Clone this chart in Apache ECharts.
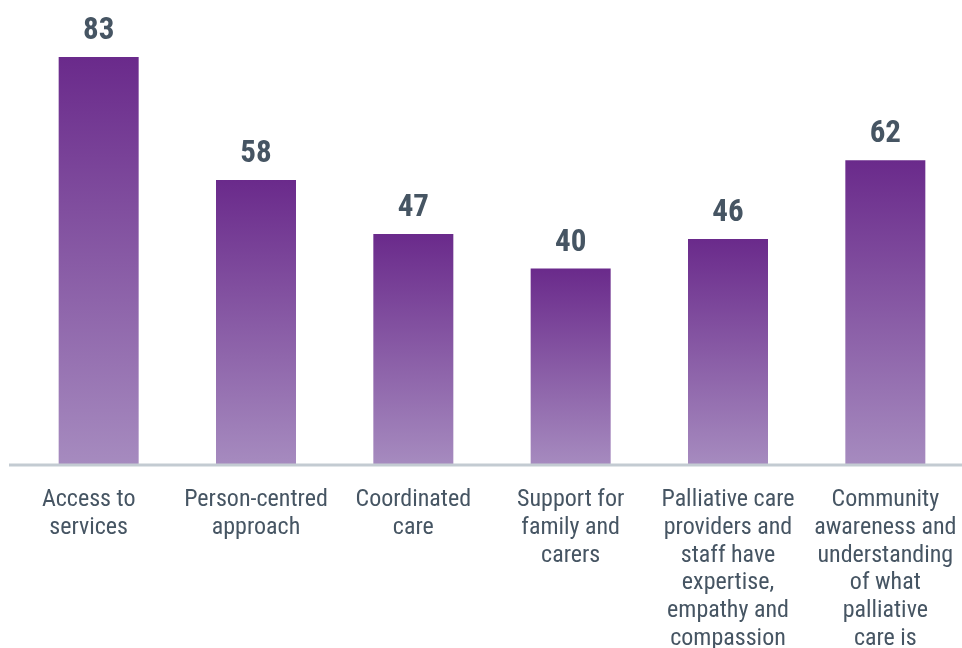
<!DOCTYPE html>
<html>
<head>
<meta charset="utf-8">
<script src="https://cdn.jsdelivr.net/npm/echarts@6/dist/echarts.min.js"></script>
<style>
  html, body { margin: 0; padding: 0; background: #fff; }
  #chart { width: 962px; height: 648px; }
</style>
</head>
<body>
<div id="chart"></div>
<script>
// categories as printed under the axis
const categories = [
  'Access to\nservices',
  'Person-centred\napproach',
  'Coordinated\ncare',
  'Support for\nfamily and\ncarers',
  'Palliative care\nproviders and\nstaff have\nexpertise,\nempathy and\ncompassion',
  'Community\nawareness and\nunderstanding\nof what\npalliative\ncare is'
];
const values = [83, 58, 47, 40, 46, 62];

const FONT = '"Roboto Condensed", "Liberation Sans Narrow", Roboto, sans-serif';
const textColor = '#465563';

const chart = echarts.init(document.getElementById('chart'));

// first label sits a little left of its bar in the original
const axisData = categories.map((c, i) => i === 0
  ? { value: c, textStyle: { padding: [0, 20, 0, 0] } }
  : c);

chart.setOption({
  animation: false,
  grid: { left: 20, width: 944, top: 22.6, bottom: 183, outerBoundsMode: 'none', containLabel: false },
  xAxis: {
    type: 'category',
    data: axisData,
    axisLine: { show: false },
    axisTick: { show: false },
    axisLabel: {
      interval: 0,
      margin: 21,
      color: textColor,
      fontFamily: FONT,
      fontSize: 24,
      lineHeight: 27.8,
      align: 'center'
    }
  },
  yAxis: {
    type: 'value',
    min: 0,
    max: 90,
    show: false,
    splitLine: { show: false }
  },
  series: [{
    type: 'bar',
    data: values,
    barWidth: 80,
    itemStyle: {
      color: new echarts.graphic.LinearGradient(0, 0, 0, 1, [
        { offset: 0, color: '#6a2a8b' },
        { offset: 1, color: '#a68bbf' }
      ])
    },
    label: {
      show: true,
      position: 'top',
      distance: 10,
      color: textColor,
      fontFamily: FONT,
      fontWeight: 'bold',
      fontSize: 31
    }
  }],
  graphic: [{
    type: 'line',
    shape: { x1: 9, y1: 465, x2: 962, y2: 465 },
    style: { stroke: '#c3cbd2', lineWidth: 3 },
    z: 10
  }]
});
</script>
</body>
</html>
